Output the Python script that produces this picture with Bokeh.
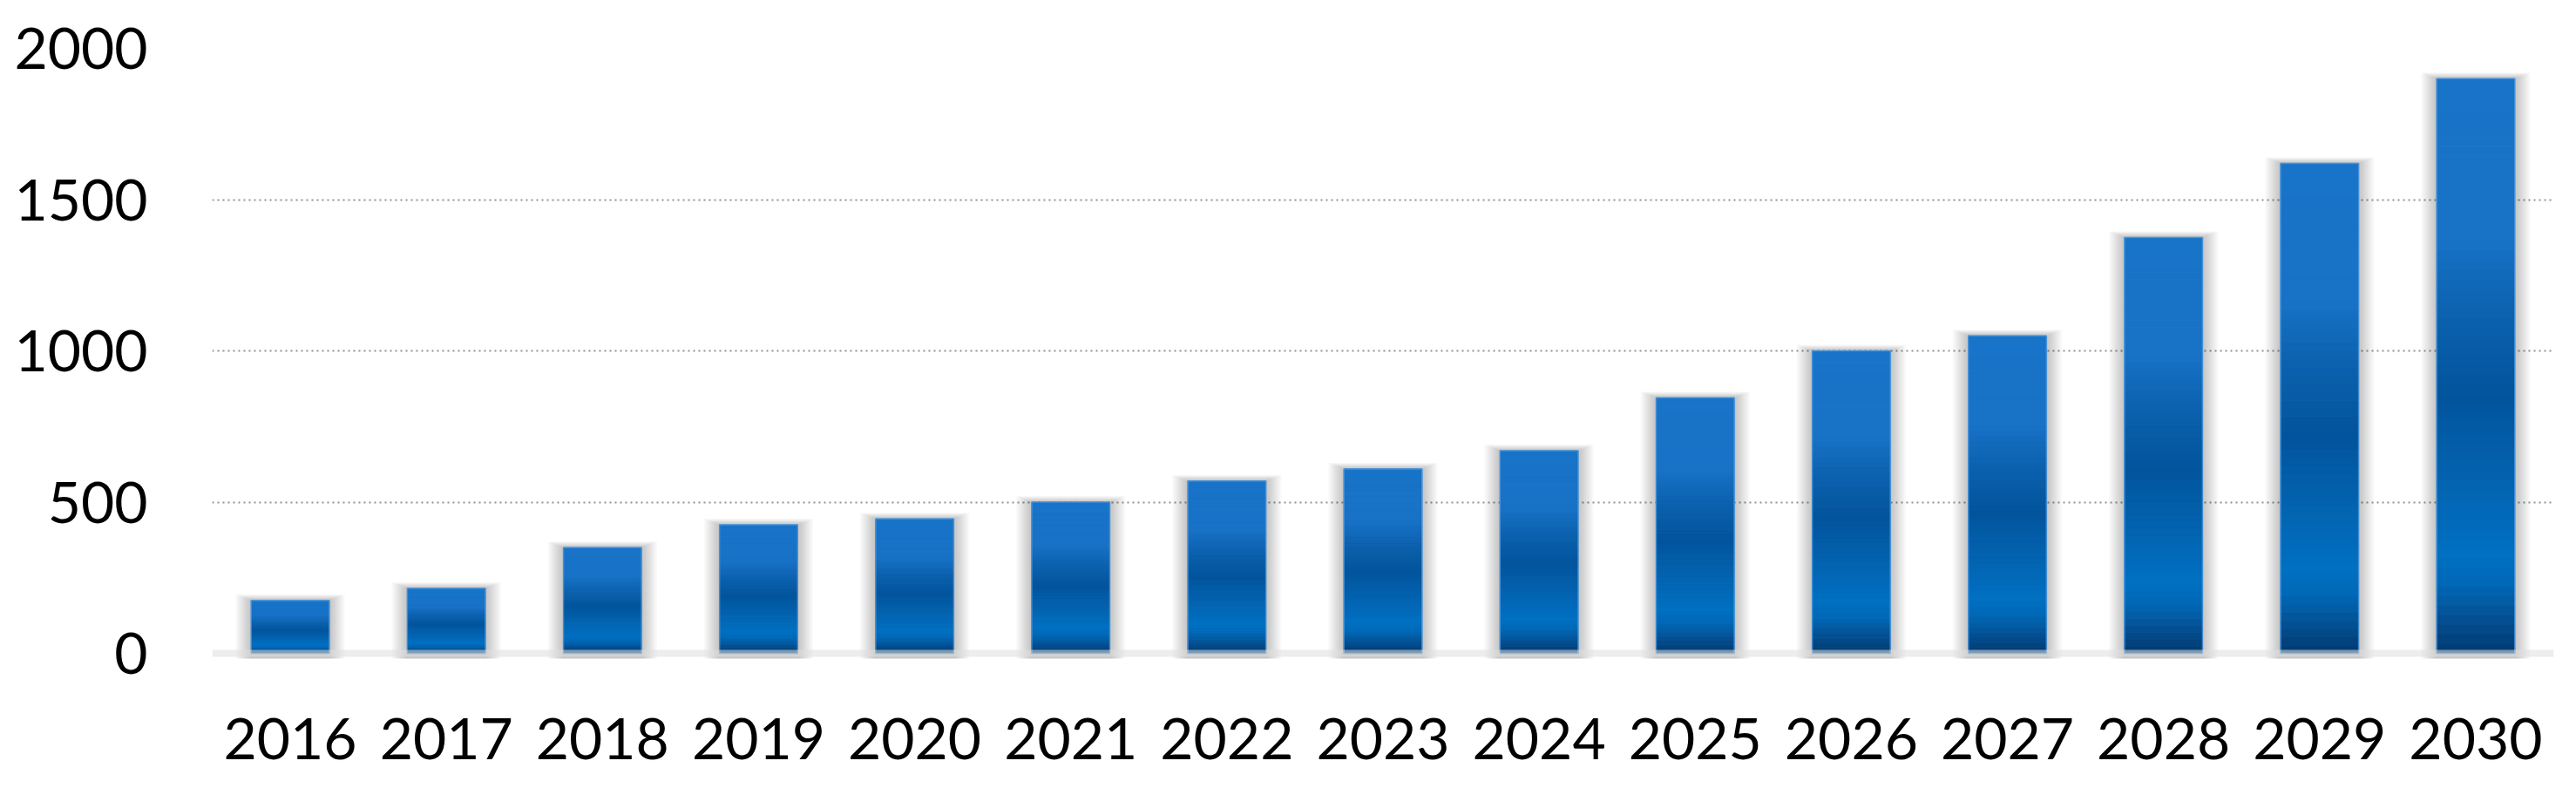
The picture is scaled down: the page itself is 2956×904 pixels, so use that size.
import numpy as np
from bokeh.plotting import figure
from bokeh.models import FactorRange, Range1d, FixedTicker, ColumnDataSource, Span
from bokeh.embed import file_html
from bokeh.resources import INLINE

# ---- data ----
years = ["2016", "2017", "2018", "2019", "2020", "2021", "2022", "2023",
         "2024", "2025", "2026", "2027", "2028", "2029", "2030"]
values = [175, 215, 350, 425, 445, 500, 570, 610, 670, 845, 1000, 1050, 1375, 1620, 1900]
y_ticks = [0, 500, 1000, 1500, 2000]
grid_ticks = [500, 1000, 1500, 2000]

# ---- style ----
FONT = "Lato"
# vertical colour profile of each bar (fraction of bar height from bottom, colour)
stops = [(0.00, "#003a70"), (0.05, "#044c8c"), (0.12, "#0068b6"), (0.17, "#0070c2"),
         (0.30, "#0363b0"), (0.45, "#02549c"), (0.60, "#0d63b0"), (0.72, "#1872c6"),
         (1.00, "#1874c8")]
N_SEG = 60
UNITS_PER_PX = 500 / 173.5


def hex2rgb(h):
    h = h.lstrip("#")
    return np.array([int(h[i:i + 2], 16) for i in (0, 2, 4)], dtype=float)


def colour_at(f):
    for (f0, c0), (f1, c1) in zip(stops[:-1], stops[1:]):
        if f0 <= f <= f1:
            t = 0 if f1 == f0 else (f - f0) / (f1 - f0)
            c = hex2rgb(c0) * (1 - t) + hex2rgb(c1) * t
            return "#%02x%02x%02x" % tuple(int(round(v)) for v in c)
    return stops[-1][1]


p = figure(width=2940, height=896,
           x_range=FactorRange(*years), y_range=Range1d(-40, 2000),
           output_backend="svg", toolbar_location=None,
           min_border_left=243, min_border_right=10,
           min_border_top=55, min_border_bottom=133)
p.outline_line_color = None
p.background_fill_color = "white"
p.border_fill_color = "white"

# grid
p.xgrid.grid_line_color = None
p.ygrid.ticker = FixedTicker(ticks=grid_ticks)
p.ygrid.grid_line_color = "#808080"
p.ygrid.grid_line_dash = "2 4"
p.ygrid.grid_line_width = 2
p.ygrid.grid_line_alpha = 0.85

# soft shadows behind bars
for k in range(1, 11):
    p.vbar(x=years, top=[v + 0.7 * k * UNITS_PER_PX for v in values],
           bottom=-6 * UNITS_PER_PX, width=0.5 + 0.02 * k,
           fill_color="black", fill_alpha=0.022, line_color=None)

# gradient bars, built as stacked slices of each bar
xs, bots, tops, cols = [], [], [], []
for yr, v in zip(years, values):
    for i in range(N_SEG):
        f0, f1 = i / N_SEG, (i + 1) / N_SEG
        xs.append(yr)
        bots.append(v * f0)
        tops.append(v * f1)
        cols.append(colour_at((f0 + f1) / 2))
src = ColumnDataSource(dict(x=xs, bottom=bots, top=tops, color=cols))
p.vbar(x="x", bottom="bottom", top="top", width=0.5, source=src,
       fill_color="color", line_color="color", line_width=1)

# thin light edge
p.vbar(x=years, top=values, bottom=0, width=0.5, fill_color=None,
       line_color="#4f97dc", line_width=1.5, line_alpha=0.8)

# baseline band
p.add_layout(Span(location=0, dimension="width", line_color="#dedede",
                  line_width=8, line_alpha=0.55))

# axes
for ax in (p.xaxis[0], p.yaxis[0]):
    ax.axis_line_color = None
    ax.major_tick_line_color = None
    ax.minor_tick_line_color = None
    ax.major_label_text_font = FONT
    ax.major_label_text_font_size = "66px"
    ax.major_label_text_color = "black"
p.yaxis.ticker = FixedTicker(ticks=y_ticks)
p.yaxis.major_label_standoff = 68
p.xaxis.major_label_standoff = 54

open("out.html", "w").write(file_html(p, INLINE))
